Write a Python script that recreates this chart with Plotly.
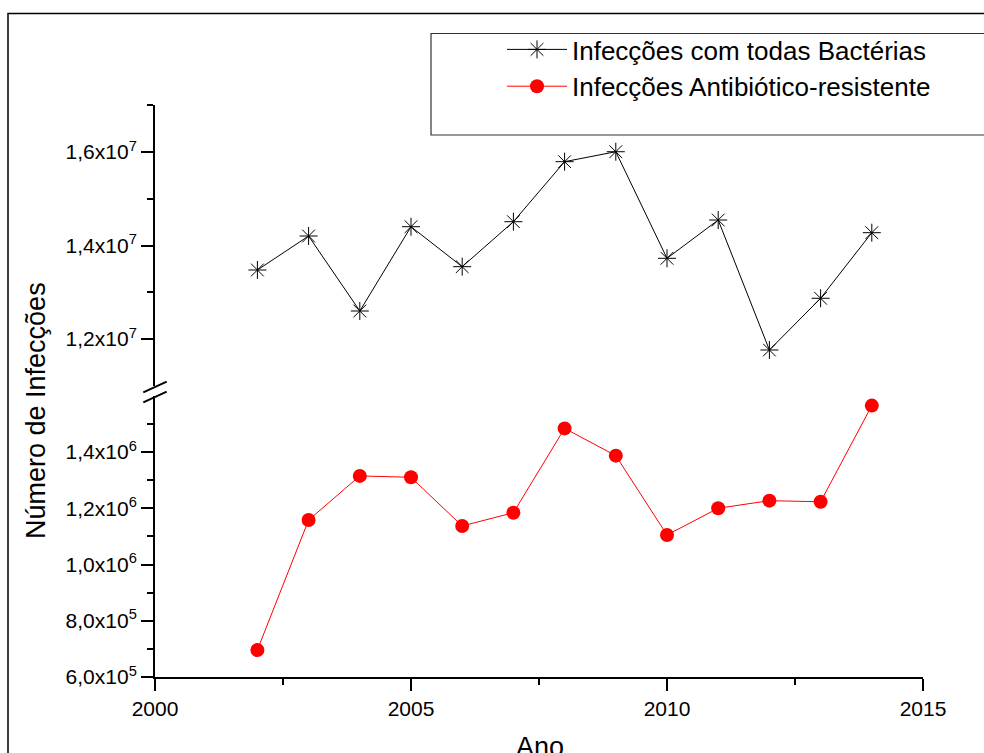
import plotly.graph_objects as go

# ---- data ----
years = [2002, 2003, 2004, 2005, 2006, 2007, 2008, 2009, 2010, 2011, 2012, 2013, 2014]
total_infections = [1.3476e7, 1.4203e7, 1.2599e7, 1.4402e7, 1.3547e7, 1.4509e7, 1.5793e7,
                    1.6006e7, 1.3726e7, 1.4545e7, 1.1765e7, 1.2871e7, 1.4274e7]
resistant_infections = [6.96e5, 1.158e6, 1.315e6, 1.310e6, 1.137e6, 1.184e6, 1.484e6,
                        1.387e6, 1.105e6, 1.200e6, 1.227e6, 1.223e6, 1.565e6]

series_names = ["Infecções com todas Bactérias", "Infecções Antibiótico-resistente"]

upper_tickvals = [1.2e7, 1.4e7, 1.6e7]
upper_ticktext = ["1,2x10<sup>7</sup>", "1,4x10<sup>7</sup>", "1,6x10<sup>7</sup>"]
upper_minor = [1.3e7, 1.5e7, 1.7e7]
lower_tickvals = [6e5, 8e5, 1.0e6, 1.2e6, 1.4e6]
lower_ticktext = ["6,0x10<sup>5</sup>", "8,0x10<sup>5</sup>", "1,0x10<sup>6</sup>",
                  "1,2x10<sup>6</sup>", "1,4x10<sup>6</sup>"]
lower_minor = [7e5, 9e5, 1.1e6, 1.3e6, 1.5e6]
x_tickvals = [2000, 2005, 2010, 2015]
x_minor = [2002.5, 2007.5, 2012.5]

x_title = "Ano"
y_title = "Número de Infecções"

# ---- layout helpers ----
W, H = 984, 753
def px(x):
    return x / W
def py(y):
    return 1 - y / H

FONT = "Liberation Sans, Arial, sans-serif"

fig = go.Figure()
fig.add_trace(go.Scatter(
    x=years, y=total_infections, name=series_names[0], xaxis="x", yaxis="y",
    mode="lines+markers",
    line=dict(color="black", width=1),
    marker=dict(symbol="asterisk-open", size=15, color="black", line=dict(color="black", width=1)),
))
fig.add_trace(go.Scatter(
    x=years, y=resistant_infections, name=series_names[1], xaxis="x", yaxis="y2",
    mode="lines+markers",
    line=dict(color="#ff0000", width=1),
    marker=dict(symbol="circle", size=14, color="#ff0000", line=dict(color="#ff0000", width=0)),
))

tickfont = dict(family=FONT, size=21, color="black")
axis_common = dict(showgrid=False, zeroline=False, showline=True, linecolor="black", linewidth=2,
                   ticks="outside", ticklen=12, tickwidth=2, tickcolor="black", tickfont=tickfont,
                   automargin=False)

fig.update_layout(
    width=W, height=H,
    margin=dict(l=0, r=0, t=0, b=0, autoexpand=False),
    paper_bgcolor="white", plot_bgcolor="white",
    font=dict(family=FONT, color="black"),
    xaxis=dict(domain=[px(155), px(923)], range=[2000, 2015], anchor="y2",
               tickmode="array", tickvals=x_tickvals, ticktext=[str(v) for v in x_tickvals],
               minor=dict(tickmode="array", tickvals=x_minor, ticks="outside", ticklen=6,
                          tickwidth=2, tickcolor="black"),
               **axis_common),
    yaxis=dict(domain=[py(385.75), py(105.25)], range=[1.1e7, 1.7e7], anchor="x",
               tickmode="array", tickvals=upper_tickvals, ticktext=upper_ticktext,
               minor=dict(tickmode="array", tickvals=upper_minor, ticks="outside", ticklen=6,
                          tickwidth=2, tickcolor="black"),
               **axis_common),
    yaxis2=dict(domain=[py(677), py(395.75)], range=[6e5, 1.6e6], anchor="x",
                tickmode="array", tickvals=lower_tickvals, ticktext=lower_ticktext,
                minor=dict(tickmode="array", tickvals=lower_minor, ticks="outside", ticklen=6,
                           tickwidth=2, tickcolor="black"),
                **axis_common),
    showlegend=True,
    legend=dict(x=px(502), y=py(26), xanchor="left", yanchor="top",
                bgcolor="rgba(0,0,0,0)", borderwidth=0,
                font=dict(family=FONT, size=26, color="black"),
                tracegroupgap=0, itemwidth=60),
    shapes=[
        # outer frame
        dict(type="rect", xref="paper", yref="paper", x0=px(8), y0=py(13.5), x1=1.05, y1=-0.05,
             line=dict(color="black", width=1.5)),
        # legend box
        dict(type="rect", xref="paper", yref="paper", x0=px(431), y0=py(33.5), x1=1.05, y1=py(135),
             line=dict(color="#333333", width=1.2)),
        # axis break marks
        dict(type="line", xref="paper", yref="paper", x0=px(143.3), y0=py(392.3), x1=px(166.7), y1=py(381.7),
             line=dict(color="black", width=2)),
        dict(type="line", xref="paper", yref="paper", x0=px(143.3), y0=py(402.3), x1=px(166.7), y1=py(391.7),
             line=dict(color="black", width=2)),
    ],
    annotations=[
        dict(text=y_title, xref="paper", yref="paper", x=px(36), y=py(411), textangle=-90,
             showarrow=False, xanchor="center", yanchor="middle",
             font=dict(family=FONT, size=27, color="black")),
        dict(text=x_title, xref="paper", yref="paper", x=px(540), y=py(747),
             showarrow=False, xanchor="center", yanchor="middle",
             font=dict(family=FONT, size=27, color="black")),
    ],
)

fig.write_html("out.html")
